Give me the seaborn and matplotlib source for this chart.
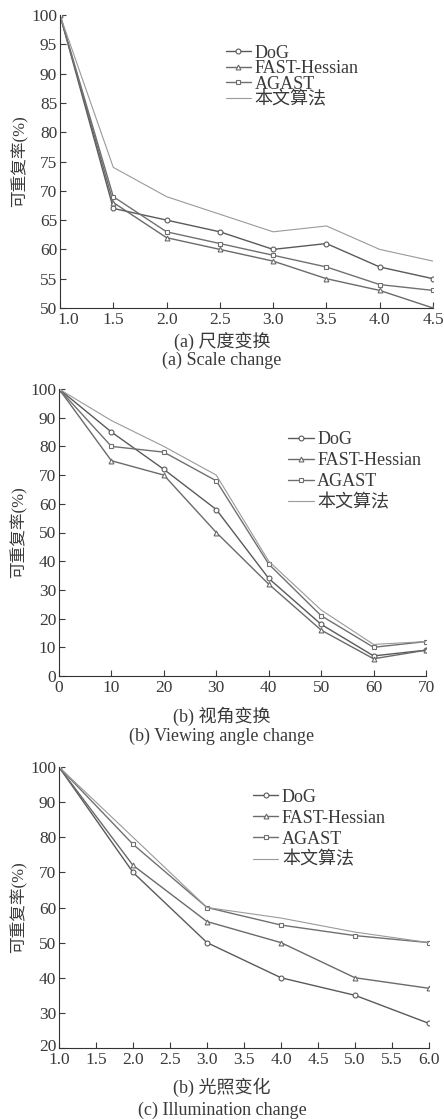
import numpy as np
import pandas as pd
import matplotlib
matplotlib.use("Agg")
import matplotlib.pyplot as plt
import matplotlib.transforms as mtransforms
import seaborn as sns

# ── data ────────────────────────────────────────────────────
methods = ["DoG", "FAST-Hessian", "AGAST", "本文算法"]

scale_x = [1.0, 1.5, 2.0, 2.5, 3.0, 3.5, 4.0, 4.5]
scale_dog = [100, 67, 65, 63, 60, 61, 57, 55]
scale_fast = [100, 68, 62, 60, 58, 55, 53, 50]
scale_agast = [100, 69, 63, 61, 59, 57, 54, 53]
scale_ours = [100, 74, 69, 66, 63, 64, 60, 58]

view_x = [0, 10, 20, 30, 40, 50, 60, 70]
view_dog = [100, 85, 72, 58, 34, 18, 7, 9]
view_fast = [100, 75, 70, 50, 32, 16, 6, 9]
view_agast = [100, 80, 78, 68, 39, 21, 10, 12]
view_ours = [100, 89, 80, 70, 40, 23, 11, 12]

illum_x = [1.0, 2.0, 3.0, 4.0, 5.0, 6.0]
illum_dog = [100, 70, 50, 40, 35, 27]
illum_fast = [100, 72, 56, 50, 40, 37]
illum_agast = [100, 78, 60, 55, 52, 50]
illum_ours = [100, 80, 60, 57, 53, 50]

# ── style ───────────────────────────────────────────────────
sns.set_style("ticks")
plt.rcParams["font.family"] = ["Liberation Serif", "Noto Sans CJK SC"]
plt.rcParams["font.size"] = 13
plt.rcParams["text.color"] = "#3a3a3a"
plt.rcParams["axes.labelcolor"] = "#3a3a3a"
plt.rcParams["xtick.color"] = "#3a3a3a"
plt.rcParams["ytick.color"] = "#3a3a3a"
plt.rcParams["axes.edgecolor"] = "#333333"

line_style = {
    "DoG": dict(marker="o", color="#5a5a5a", lw=1.0),
    "FAST-Hessian": dict(marker="^", color="#6a6a6a", lw=1.0),
    "AGAST": dict(marker="s", color="#707070", lw=1.0),
    "本文算法": dict(marker=None, color="#9a9a9a", lw=0.8),
}

W, H = 444, 1119
fig = plt.figure(figsize=(W / 100, H / 100), dpi=100)


def px_axes(left, top, right, bottom):
    return fig.add_axes([left / W, 1 - bottom / H, (right - left) / W, (bottom - top) / H])


def nudge(label, dx, dy):
    # shift a tick label by a few pixels
    label.set_transform(label.get_transform() +
                        mtransforms.ScaledTranslation(dx / 100, dy / 100, fig.dpi_scale_trans))


def draw_panel(ax, x, series, xticks, xlabels, yticks, legend_anchor, spacing):
    for name, vals in zip(methods, series):
        st = line_style[name]
        df = pd.DataFrame({"x": x, "y": vals})
        sns.lineplot(data=df, x="x", y="y", ax=ax, label=name,
                     color=st["color"], linewidth=st["lw"],
                     marker=st["marker"], markersize=3.5,
                     markerfacecolor="white", markeredgecolor=st["color"],
                     markeredgewidth=0.8)
    ax.set_xlim(x[0], x[-1])
    ax.set_ylim(yticks[0], yticks[-1])
    ax.set_xticks(xticks)
    ax.set_xticklabels(xlabels)
    ax.set_yticks(yticks)
    ax.tick_params(direction="in", length=4, width=0.8, labelsize=12.5)
    ax.tick_params(axis="x", pad=3)
    ax.tick_params(axis="y", pad=2)
    ax.set_xlabel("")
    ax.set_ylabel("可重复率(%)", fontsize=12, labelpad=2)
    sns.despine(ax=ax)
    ax.legend(frameon=False, loc="upper left", bbox_to_anchor=legend_anchor,
              borderpad=0, handlelength=1.4, handletextpad=0.2,
              labelspacing=spacing, fontsize=13)


# (a) scale
ax1 = px_axes(60, 15, 433, 308)
draw_panel(ax1, scale_x, [scale_dog, scale_fast, scale_agast, scale_ours],
           scale_x, [f"{v:.1f}" for v in scale_x], list(range(50, 101, 5)),
           (0.42, 0.93), -0.08)
# first x label sits right of its tick in the reference
nudge(ax1.get_xticklabels()[0], 8, 0)
fig.text(0.5, 1 - 341 / H, "(a) 尺度变换", ha="center", va="center", fontsize=13)
fig.text(0.5, 1 - 360 / H, "(a) Scale change", ha="center", va="center", fontsize=13)

# (b) viewing angle
ax2 = px_axes(59, 389, 426, 676)
draw_panel(ax2, view_x, [view_dog, view_fast, view_agast, view_ours],
           view_x, [str(v) for v in view_x], list(range(0, 101, 10)),
           (0.60, 0.885), 0.22)
fig.text(0.5, 1 - 716 / H, "(b) 视角变换", ha="center", va="center", fontsize=13)
fig.text(0.5, 1 - 736 / H, "(b) Viewing angle change", ha="center", va="center", fontsize=13)

# (c) illumination
ax3 = px_axes(59, 767, 429, 1048)
illum_ticks = [1.0, 1.5, 2.0, 2.5, 3.0, 3.5, 4.0, 4.5, 5.0, 5.5, 6.0]
draw_panel(ax3, illum_x, [illum_dog, illum_fast, illum_agast, illum_ours],
           illum_ticks, [f"{v:.1f}" for v in illum_ticks], list(range(20, 101, 10)),
           (0.50, 0.955), 0.22)
nudge(ax3.get_yticklabels()[0], 0, 3)
fig.text(0.5, 1 - 1087 / H, "(b) 光照变化", ha="center", va="center", fontsize=13)
fig.text(0.5, 1 - 1110 / H, "(c) Illumination change", ha="center", va="center", fontsize=13)

fig.savefig("out.png", dpi=100)
